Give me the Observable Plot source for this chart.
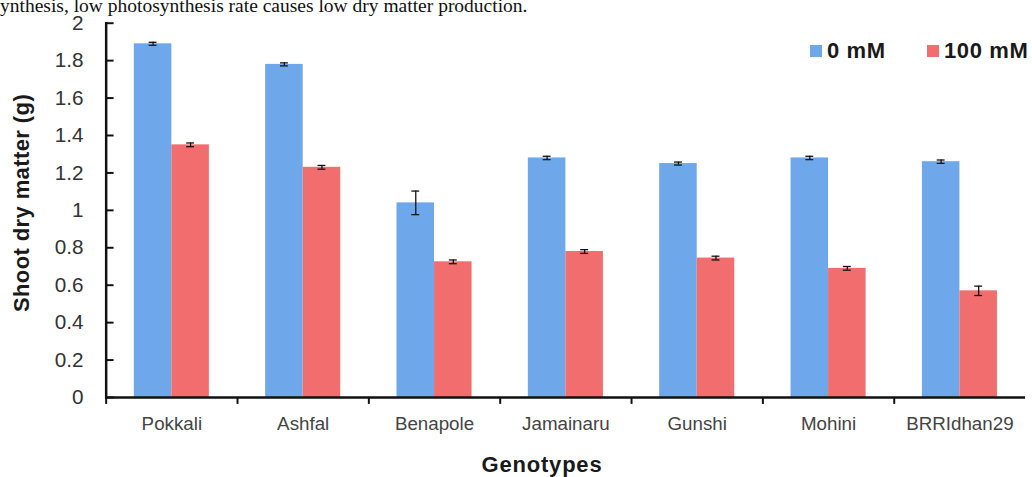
<!DOCTYPE html>
<html>
<head>
<meta charset="utf-8">
<script src="https://cdn.jsdelivr.net/npm/d3@7"></script>
<script src="https://cdn.jsdelivr.net/npm/@observablehq/plot@0.6"></script>
<style>
  html, body { margin: 0; padding: 0; background: #fff; overflow: hidden; width: 1032px; height: 477px; }
  #wrap { position: relative; width: 1032px; height: 477px; overflow: hidden; }
  #chart { position: absolute; left: 0; top: 0; }
  #caption { position: absolute; left: 0; top: 0px; height: 12px; font-family: "Liberation Serif", "Times New Roman", serif; font-size: 19.5px; line-height: 12px; color: #111; white-space: nowrap; }
  .lbl { position: absolute; font-family: "Liberation Sans", Arial, sans-serif; font-weight: bold; color: #1a1a1a; white-space: nowrap; }
  #ytitle { left: 22px; top: 203px; font-size: 22px; letter-spacing: 0.4px; transform: translate(-50%, -50%) rotate(-90deg); }
  #xtitle { left: 542px; top: 465px; font-size: 22px; letter-spacing: 0.8px; transform: translate(-50%, -50%); }
  .leg { position: absolute; top: 38px; font-family: "Liberation Sans", Arial, sans-serif; font-weight: bold; font-size: 22px; letter-spacing: 0.6px; color: #1a1a1a; white-space: nowrap; display: flex; align-items: center; }
  .sw { display: inline-block; width: 12px; height: 12px; margin-right: 5px; }
</style>
</head>
<body>
<div id="wrap">
  <div id="chart"></div>
  <div id="caption">ynthesis, low photosynthesis rate causes low dry matter production.</div>
  <div id="ytitle" class="lbl">Shoot dry matter (g)</div>
  <div id="xtitle" class="lbl">Genotypes</div>
  <div class="leg" style="left:810px"><span class="sw" style="background:#6FA8EA"></span>0 mM</div>
  <div class="leg" style="left:927px"><span class="sw" style="background:#F26D6D"></span>100 mM</div>
</div>
<script>
const genotypes = ["Pokkali", "Ashfal", "Benapole", "Jamainaru", "Gunshi", "Mohini", "BRRIdhan29"];
const treatments = ["0 mM", "100 mM"];
const values0 = [1.89, 1.78, 1.04, 1.28, 1.25, 1.28, 1.26];
const values100 = [1.35, 1.23, 0.725, 0.78, 0.745, 0.69, 0.57];
const err0 = [0.008, 0.008, 0.063, 0.009, 0.008, 0.009, 0.009];
const err100 = [0.01, 0.01, 0.01, 0.01, 0.01, 0.01, 0.025];
const yTicks = [0, 0.2, 0.4, 0.6, 0.8, 1, 1.2, 1.4, 1.6, 1.8, 2];
const colors = ["#6FA8EA", "#F26D6D"];

const data = [];
genotypes.forEach((g, i) => {
  data.push({genotype: g, treatment: treatments[0], value: values0[i], err: err0[i]});
  data.push({genotype: g, treatment: treatments[1], value: values100[i], err: err100[i]});
});
const d0 = data.filter(d => d.treatment === treatments[0]);
const d1 = data.filter(d => d.treatment === treatments[1]);

const band = 133, barW = 38, outer = 28.5, cap = 8;
const font = "Liberation Sans, Arial, sans-serif";

const chart = Plot.plot({
  width: 1045,
  height: 477,
  marginLeft: 107,
  marginRight: 7,
  marginTop: 23,
  marginBottom: 75,
  style: {fontFamily: font, background: "white"},
  x: {domain: genotypes, padding: 0, label: null},
  y: {domain: [0, 2], label: null},
  marks: [
    Plot.barY(d0, {x: "genotype", y: "value", fill: colors[0], insetLeft: outer, insetRight: band - outer - barW}),
    Plot.barY(d1, {x: "genotype", y: "value", fill: colors[1], insetLeft: outer + barW, insetRight: outer}),
    Plot.ruleX(d0, {x: "genotype", y1: d => d.value - d.err, y2: d => d.value + d.err, dx: -barW / 2, stroke: "#111", strokeWidth: 1.3}),
    Plot.ruleX(d1, {x: "genotype", y1: d => d.value - d.err, y2: d => d.value + d.err, dx: barW / 2, stroke: "#111", strokeWidth: 1.3}),
    Plot.tickY(d0, {x: "genotype", y: d => d.value + d.err, insetLeft: outer + barW / 2 - cap / 2, insetRight: band - outer - barW / 2 - cap / 2, stroke: "#111", strokeWidth: 1.3}),
    Plot.tickY(d0, {x: "genotype", y: d => d.value - d.err, insetLeft: outer + barW / 2 - cap / 2, insetRight: band - outer - barW / 2 - cap / 2, stroke: "#111", strokeWidth: 1.3}),
    Plot.tickY(d1, {x: "genotype", y: d => d.value + d.err, insetLeft: outer + barW * 1.5 - cap / 2, insetRight: outer + barW / 2 - cap / 2, stroke: "#111", strokeWidth: 1.3}),
    Plot.tickY(d1, {x: "genotype", y: d => d.value - d.err, insetLeft: outer + barW * 1.5 - cap / 2, insetRight: outer + barW / 2 - cap / 2, stroke: "#111", strokeWidth: 1.3}),
    Plot.axisY({ticks: yTicks, tickSize: 0, tickPadding: 23, tickFormat: d => String(d), fontSize: 21, color: "#333", label: null}),
    Plot.axisY({ticks: yTicks, tickSize: -8, text: null, stroke: "#111", strokeWidth: 2, label: null}),
    Plot.axisX({tickSize: 0, tickPadding: 19, fontSize: 19, color: "#444", label: null, style: {letterSpacing: "0.4px"}}),
    Plot.axisX({tickSize: 7, text: null, dx: -band / 2, stroke: "#111", strokeWidth: 2, label: null}),
    Plot.ruleY([0], {stroke: "#111", strokeWidth: 2.5}),
    Plot.frame({anchor: "left", stroke: "#111", strokeWidth: 2.5})
  ]
});
document.getElementById("chart").appendChild(chart);
</script>
</body>
</html>
